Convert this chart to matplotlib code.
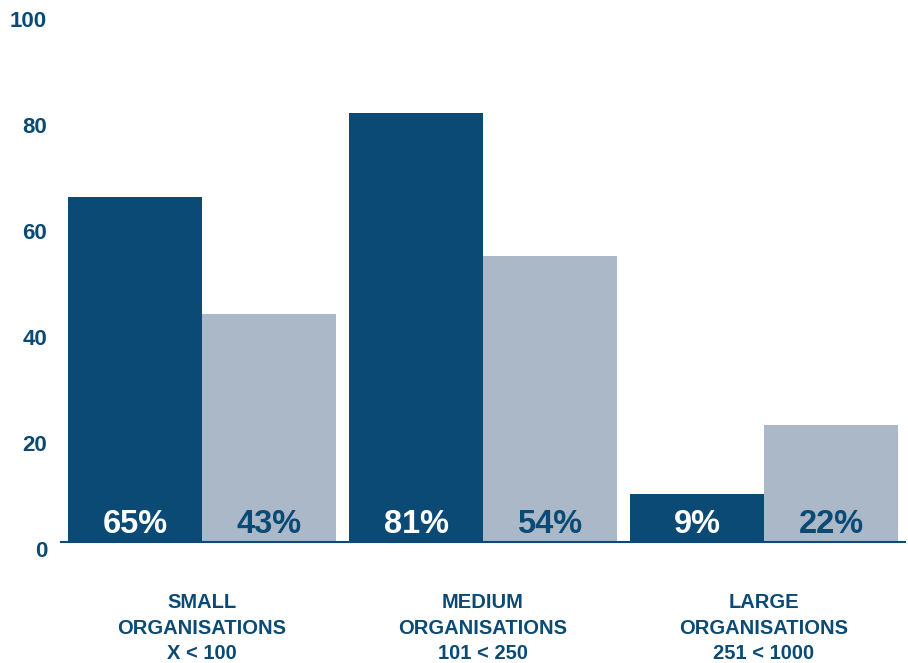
import numpy as np
import matplotlib.pyplot as plt
import matplotlib.transforms as mtransforms

plt.rcParams['font.family'] = ['Liberation Sans', 'DejaVu Sans']

DARK = '#0b4a74'
LIGHT = '#aab8c8'

groups = ['SMALL\nORGANISATIONS\nX < 100',
          'MEDIUM\nORGANISATIONS\n101 < 250',
          'LARGE\nORGANISATIONS\n251 < 1000']
series_a = [65, 81, 9]
series_b = [43, 54, 22]
yticks = [0, 20, 40, 60, 80, 100]

fig = plt.figure(figsize=(9.08, 6.63), dpi=100)
ax = fig.add_axes([0.0672, 0.1825, 0.9295, 0.7995])

x = np.arange(len(groups))
w = 0.477
bars_a = ax.bar(x - w / 2, series_a, w, color=DARK, linewidth=0)
bars_b = ax.bar(x + w / 2, series_b, w, color=LIGHT, linewidth=0)

# percentage labels sitting at the bottom of each bar
for rect, v in zip(bars_a, series_a):
    ax.annotate(f'{v}%', (rect.get_x() + rect.get_width() / 2, 0),
                xytext=(0, 12.5), textcoords='offset points',
                ha='center', va='center', color='white',
                fontsize=23.5, fontweight='bold')
for rect, v in zip(bars_b, series_b):
    ax.annotate(f'{v}%', (rect.get_x() + rect.get_width() / 2, 0),
                xytext=(0, 12.5), textcoords='offset points',
                ha='center', va='center', color=DARK,
                fontsize=23.5, fontweight='bold')

ax.set_xlim(-0.502, 2.502)
ax.set_ylim(0, 100)

ax.set_yticks(yticks)
ax.set_yticklabels([str(t) for t in yticks], fontsize=16,
                   fontweight='bold', color=DARK)
ax.tick_params(axis='y', length=0, pad=10)
shift = mtransforms.ScaledTranslation(0, -5 / 72, fig.dpi_scale_trans)
for lbl in ax.get_yticklabels():
    lbl.set_transform(lbl.get_transform() + shift)

ax.set_xticks(x)
ax.set_xticklabels(groups, fontsize=14.5, fontweight='bold', color=DARK,
                   linespacing=1.42, va='top')
ax.tick_params(axis='x', length=0, pad=37)

for side in ['top', 'right', 'left']:
    ax.spines[side].set_visible(False)
ax.spines['bottom'].set_color(DARK)
ax.spines['bottom'].set_linewidth(1.5)

fig.savefig('out.png', dpi=100)
